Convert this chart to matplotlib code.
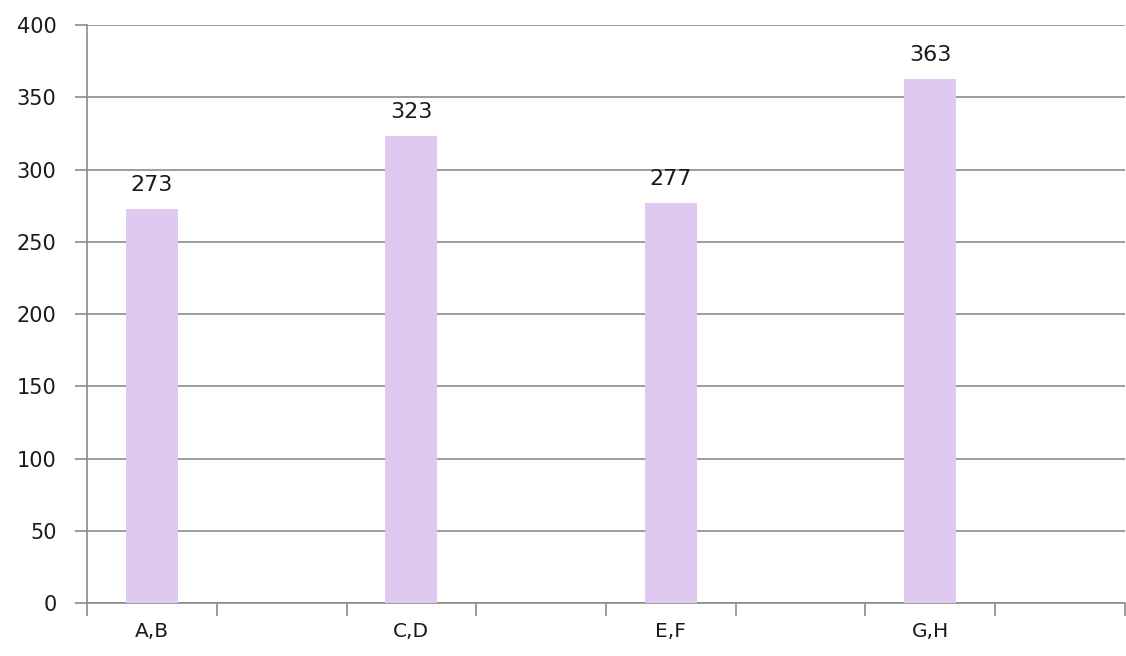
import matplotlib.pyplot as plt
import numpy as np

# data
categories = ["A,B", "", "C,D", "", "E,F", "", "G,H", ""]
values = [273, None, 323, None, 277, None, 363, None]

plt.rcParams['font.family'] = ['DejaVu Sans']

fig = plt.figure(figsize=(11.26, 6.56), dpi=100)
ax = fig.add_axes([0.0773, 0.0808, 0.9218, 0.881])

x = np.arange(len(categories))
bar_x = [i for i, v in enumerate(values) if v is not None]
bar_v = [v for v in values if v is not None]

bars = ax.bar(bar_x, bar_v, width=0.4, color='#e0c9f0', zorder=3)
for xi, v in zip(bar_x, bar_v):
    ax.annotate(str(v), (xi, v), xytext=(0, 10), textcoords='offset points',
                ha='center', va='bottom', fontsize=16, color='#1a1a1a')

ax.set_xlim(-0.5, len(categories) - 0.5)
ax.set_ylim(0, 400)
ax.set_yticks(np.arange(0, 401, 50))
ax.yaxis.grid(True, color='#8c8c8c', linewidth=1.2, zorder=0)

# x ticks at category boundaries, labels at centres
ax.set_xticks(np.arange(-0.5, len(categories), 1))
ax.set_xticklabels([])
ax.set_xticks(x, minor=True)
ax.set_xticklabels(categories, minor=True)
ax.tick_params(axis='x', which='major', length=9, width=1.2, color='#8c8c8c', direction='out')
ax.tick_params(axis='x', which='minor', length=0, pad=14, labelsize=14.5, labelcolor='#1a1a1a')
ax.tick_params(axis='y', length=9, width=1.2, color='#8c8c8c', pad=13, labelsize=15, labelcolor='#1a1a1a')

for s in ['top', 'right']:
    ax.spines[s].set_visible(False)
for s in ['left', 'bottom']:
    ax.spines[s].set_color('#8c8c8c')
    ax.spines[s].set_linewidth(1.2)

fig.savefig('out.png', dpi=100)
